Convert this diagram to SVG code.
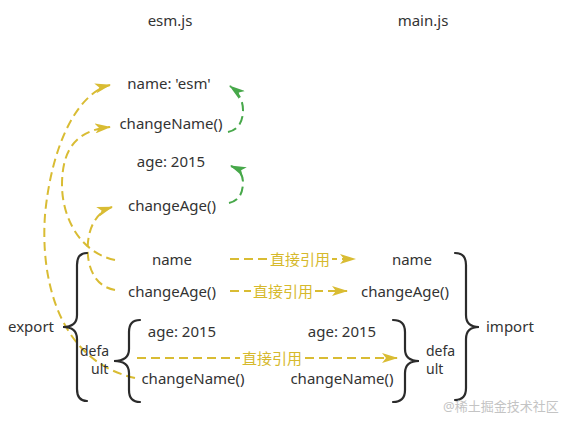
<svg xmlns="http://www.w3.org/2000/svg" width="561" height="426" viewBox="0 0 561 426">
<style>
text{font-family:"Noto Sans","Noto Sans CJK SC",sans-serif;font-size:15px;fill:#333}
.c{text-anchor:middle}
.d{font-size:14px}
.lbl{fill:#d6b92c;font-size:15px;text-anchor:middle}
.y{fill:none;stroke:#d9bc33;stroke-width:2;stroke-dasharray:9 5}
.g{fill:none;stroke:#47a84a;stroke-width:2;stroke-dasharray:9 5}
.b{fill:none;stroke:#2b2b2b;stroke-width:2.2;stroke-linecap:round}
.wm{fill:#c4c4c4;font-size:13px}
</style>
<defs>
<marker id="ay" viewBox="0 0 16 10" refX="15" refY="5" markerWidth="16" markerHeight="10" markerUnits="userSpaceOnUse" orient="auto">
<path d="M0,0 L16,5 L0,10 L4,5 z" fill="#d9bc33"/>
</marker>
<marker id="ag" viewBox="0 0 16 10" refX="15" refY="5" markerWidth="16" markerHeight="10" markerUnits="userSpaceOnUse" orient="auto">
<path d="M0,0 L16,5 L0,10 L4,5 z" fill="#47a84a"/>
</marker>
</defs>
<rect width="561" height="426" fill="#fff"/>
<g id="connectors">
<path class="y" d="M135,378 C62,362 40,285 45,215 C52,140 80,92 110,85" marker-end="url(#ay)"/>
<path class="y" d="M115,260 C78,252 62,215 62,185 C62,145 80,130 110,127" marker-end="url(#ay)"/>
<path class="y" d="M115,290 C92,286 86,262 88,242 C90,222 100,211 112,207" marker-end="url(#ay)"/>
<path class="g" d="M228,132 C238,130 243,122 243,110 C243,100 238,92 230,86" marker-end="url(#ag)"/>
<path class="g" d="M229,203 C239,201 243,193 243,182 C243,174 238,169 231,166" marker-end="url(#ag)"/>
<path class="y" d="M230,259 L355,259" marker-end="url(#ay)"/>
<path class="y" d="M230,291 L347,291" marker-end="url(#ay)"/>
<path class="y" d="M137,358 L397,358" marker-end="url(#ay)"/>
<rect x="268" y="249" width="64" height="20" fill="#fff"/>
<rect x="251" y="281" width="64" height="20" fill="#fff"/>
<rect x="240" y="348" width="64" height="20" fill="#fff"/>
<text class="lbl" x="300" y="264.5">直接引用</text>
<text class="lbl" x="283" y="296.5">直接引用</text>
<text class="lbl" x="272" y="363.5">直接引用</text>
</g>
<g id="braces">
<path class="b" d="M87,253 Q77,253 77,265 L77,315 Q77,327 63,327 Q77,327 77,339 L77,389 Q77,401 87,401"/>
<path class="b" d="M140,320 Q129,320 129,332 L129,349 Q129,361 114,361 Q129,361 129,373 L129,390 Q129,402 140,402"/>
<path class="b" d="M393,320 Q405,320 405,332 L405,349 Q405,361 419,361 Q405,361 405,373 L405,390 Q405,402 393,402"/>
<path class="b" d="M455,253 Q466,253 466,265 L466,315 Q466,327 479,327 Q466,327 466,339 L466,388 Q466,400 455,400"/>
</g>
<g id="titles">
<text class="c" x="170" y="26">esm.js</text>
<text class="c" x="423" y="26">main.js</text>
</g>
<g id="esm-top">
<text class="c" x="169" y="89">name: 'esm'</text>
<text class="c" x="171" y="129">changeName()</text>
<text class="c" x="171" y="167">age: 2015</text>
<text class="c" x="172" y="211">changeAge()</text>
</g>
<g id="esm-export">
<text class="c" x="172" y="265">name</text>
<text class="c" x="172" y="297">changeAge()</text>
<text x="8" y="332">export</text>
<text class="d" x="80" y="356">defa</text>
<text class="d" x="91" y="374">ult</text>
<text class="c" x="182" y="337">age: 2015</text>
<text class="c" x="193" y="384">changeName()</text>
</g>
<g id="main-import">
<text class="c" x="412" y="265">name</text>
<text class="c" x="405" y="297">changeAge()</text>
<text class="c" x="342" y="337">age: 2015</text>
<text class="c" x="342" y="384">changeName()</text>
<text class="d" x="426" y="356">defa</text>
<text class="d" x="426" y="374">ult</text>
<text x="486" y="332">import</text>
</g>
<text class="wm" x="443" y="411">@稀土掘金技术社区</text>
</svg>
